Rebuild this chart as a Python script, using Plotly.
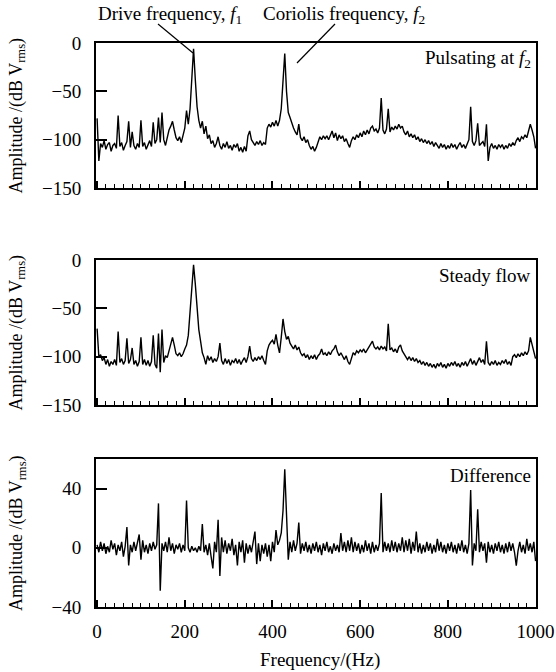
import plotly.graph_objects as go

# ---------------- data ----------------
freq_hz = list(range(0, 1001, 4))

pulsating_db = [
    -78, -122, -104, -108, -101, -110, -105, -103, -112, -106,
    -104, -109, -75, -107, -103, -111, -106, -102, -81, -108,
    -92, -106, -110, -104, -108, -80, -107, -103, -110, -105,
    -101, -107, -82, -104, -100, -77, -103, -72, -100, -106,
    -96, -90, -86, -81, -90, -98, -101, -97, -103, -95,
    -88, -70, -84, -68, -42, -6, -38, -66, -80, -88,
    -81, -94, -86, -99, -95, -104, -101, -108, -104, -97,
    -106, -110, -104, -108, -102, -109, -106, -111, -105, -108,
    -104, -112, -108, -113, -107, -112, -96, -91, -100, -103,
    -106, -102, -105, -101, -106, -103, -105, -88, -84, -87,
    -82, -86, -80, -86, -80, -68, -42, -11, -50, -72,
    -77, -84, -88, -92, -95, -84, -98, -101, -97, -103,
    -100, -106, -110, -107, -112, -108, -102, -97, -100, -96,
    -99, -96, -100, -95, -91, -98, -93, -101, -95, -99,
    -96, -102, -99, -104, -108, -101, -97, -100, -95, -98,
    -93, -97, -91, -95, -90, -94, -88, -86, -91, -89,
    -93, -88, -57, -90, -94, -89, -68, -92, -87, -90,
    -86, -89, -84, -88, -86, -92, -95, -91, -97, -94,
    -98, -95, -100, -97, -102, -99, -103, -100, -104, -101,
    -105, -102, -107, -103, -106, -109, -104, -108, -105, -110,
    -106, -109, -104, -108, -105, -110, -106, -103, -108, -105,
    -109, -104, -100, -66, -102, -106, -101, -83, -106, -104,
    -102, -107, -84, -122, -108, -104, -109, -106, -110, -105,
    -108, -105, -110, -106, -109, -104, -107, -103, -106, -101,
    -98, -102, -97, -99, -95, -98, -92, -84, -90, -97,
    -109,
]

steady_db = [
    -71, -100, -98, -104, -101, -108, -103, -110, -105, -108,
    -103, -109, -74, -106, -102, -108, -104, -81, -107, -103,
    -91, -108, -104, -110, -105, -80, -108, -103, -109, -104,
    -110, -105, -78, -108, -112, -76, -116, -72, -106, -99,
    -101, -93, -86, -80, -88, -97, -99, -96, -100, -97,
    -92, -88, -78, -55, -30, -5, -25, -52, -72, -84,
    -96, -101, -108, -99, -104, -100, -106, -102, -105, -100,
    -86, -104, -108, -102, -107, -103, -109, -104, -106, -102,
    -107, -103, -108, -104, -101, -106, -100, -89, -102, -105,
    -101, -104, -100, -103, -99, -104, -108, -94, -88, -85,
    -83, -87, -77, -88, -96, -80, -61, -74, -82, -79,
    -86, -89, -92, -88, -93, -90, -96, -99, -97, -101,
    -98, -103, -99, -102, -98, -103, -99, -97, -92, -98,
    -96, -99, -95, -98, -94, -92, -88, -95, -99, -96,
    -100, -103, -99, -105, -108, -102, -96, -98, -94, -96,
    -93, -95, -92, -96, -93, -90, -87, -84, -90, -92,
    -90, -93, -89, -92, -90, -94, -66, -93, -91, -95,
    -92, -96, -90, -88, -94, -97, -100, -103, -100, -104,
    -101, -105, -102, -106, -104, -108, -105, -109, -106, -110,
    -107, -111, -108, -112, -107, -110, -106, -111, -108, -112,
    -107, -110, -106, -109, -105, -110, -107, -111, -106, -109,
    -105, -110, -106, -102, -108, -104, -109, -105, -101, -106,
    -103, -108, -84, -106, -109, -105, -108, -104, -109, -106,
    -108, -104, -107, -103, -108, -105, -109, -100, -98, -101,
    -97, -100, -96, -99, -95, -98, -94, -80, -88, -96,
    -102,
]

difference_db = [
    2, -3, 4, -2, 3, -4, 1, -3, 5, -1,
    3, -5, 2, -2, 4, -6, 1, 14, -12, 2,
    -3, 4, -2, 3, 9, -8, 5, -3, 2, -4,
    3, -2, 4, -1, 2, 30, -29, 3, -2, 4,
    -3, 7, -2, 3, -4, 2, -1, 3, -3, 2,
    -2, 32, 0, -3, 1, -2, 0, -3, 1, -2,
    16, -3, 2, -5, 3, -6, -14, 4, -3, 19,
    -19, 7, -3, 5, -4, 3, -2, 6, -5, 2,
    -12, 4, -3, 5, -10, 3, -4, 2, -3, 4,
    11, -11, 3, -9, 2, -4, 3, -6, 2, -9,
    4, -3, 12, 2, 5, 10, 25, 53, 19, -8,
    4, -3, 5, -2, 3, 17, -4, 3, -2, 4,
    -3, 2, -4, 3, -2, 4, -3, 2, -5, 3,
    -2, 4, -3, 1, -4, 3, -2, 2, -3, 10,
    -2, 4, -3, 5, -2, 7, -3, 4, -2, 3,
    -4, 2, -3, 5, -2, 3, -4, 4, -3, 2,
    -2, 3, 37, -3, 4, -2, 3, -3, 5, -2,
    4, -3, 3, -2, 7, -3, 5, -2, 6, -4,
    4, -2, 11, -3, 3, -4, 2, -3, 4, -2,
    3, -4, 2, -3, 6, -2, 4, -3, 2, -4,
    3, -2, 4, -3, 2, -4, 3, -2, 5, -3,
    2, -4, 3, 39, -12, 3, -2, 26, -3, 4,
    -2, 3, -10, 4, -3, 2, -4, 3, -2, 4,
    -3, 2, -4, 3, -3, 4, -2, 3, -3, -12,
    -2, 4, -3, 2, -4, 6, -2, 3, -3, 4,
    -9,
]

x_tickvals = [0, 200, 400, 600, 800, 1000]
x_ticktext = ["0", "200", "400", "600", "800", "1000"]
db_tickvals = [-150, -100, -50, 0]
db_ticktext = ["\u2212150", "\u2212100", "\u221250", "0"]
diff_tickvals = [-40, 0, 40]
diff_ticktext = ["\u221240", "0", "40"]

panel_labels = ["Pulsating at <i>f</i><sub>2</sub>", "Steady flow", "Difference"]

# ---------------- layout geometry ----------------
W, H = 556, 672
L, R, T, B = 96, 20, 43, 65


def px(x):
    return (x - L) / (W - L - R)


def py(y):
    return 1 - (y - T) / (H - T - B)


FONT = "Liberation Serif, Times New Roman, DejaVu Serif, serif"
fig = go.Figure()
series = [pulsating_db, steady_db, difference_db]
for i, s in enumerate(series):
    sfx = "" if i == 0 else str(i + 1)
    fig.add_trace(go.Scatter(x=freq_hz, y=s, mode="lines",
                             xaxis="x" + sfx, yaxis="y" + sfx,
                             line=dict(color="black", width=1.4),
                             showlegend=False, hoverinfo="skip"))

xcommon = dict(range=[-2.5, 1001], showline=True, linecolor="black", linewidth=2,
               mirror=True, ticks="inside", ticklen=7, tickwidth=1.5, tickcolor="black",
               tickvals=x_tickvals, ticktext=x_ticktext, automargin=False,
               minor=dict(ticks="inside", ticklen=4, tickwidth=1, tickcolor="black",
                          tickvals=list(range(20, 1000, 20))),
               showgrid=False, zeroline=False,
               tickfont=dict(family=FONT, size=19, color="black"))
ycommon = dict(showline=True, linecolor="black", linewidth=2, mirror=True,
               ticks="inside", ticklen=11, tickwidth=1.5, tickcolor="black",
               showgrid=False, zeroline=False, ticklabelstandoff=9, automargin=False,
               tickfont=dict(family=FONT, size=19, color="black"))

doms = [(py(188), py(43)), (py(405), py(260)), (py(607), py(459))]

fig.update_layout(
    template="none", autosize=False,
    width=W, height=H, margin=dict(l=L, r=R, t=T, b=B, pad=0),
    paper_bgcolor="white", plot_bgcolor="white",
    font=dict(family=FONT, size=19, color="black"),
    xaxis=dict(xcommon, anchor="y", showticklabels=False),
    xaxis2=dict(xcommon, anchor="y2", showticklabels=False),
    xaxis3=dict(xcommon, anchor="y3", showticklabels=True, ticklabelstandoff=6),
    yaxis=dict(ycommon, anchor="x", domain=list(doms[0]), range=[-150, 0],
               tickvals=db_tickvals, ticktext=db_ticktext),
    yaxis2=dict(ycommon, anchor="x2", domain=list(doms[1]), range=[-150, 0],
                tickvals=db_tickvals, ticktext=db_ticktext),
    yaxis3=dict(ycommon, anchor="x3", domain=list(doms[2]), range=[-40, 60],
                tickvals=diff_tickvals, ticktext=diff_ticktext),
)

ann = []
ytitle = "Amplitude /(dB V<sub>rms</sub>)"
for cy in [115.5, 332.5, 533]:
    ann.append(dict(text=ytitle, x=px(17), y=py(cy), xref="paper", yref="paper",
                    showarrow=False, textangle=-90, xanchor="center", yanchor="middle",
                    font=dict(family=FONT, size=18)))
ann.append(dict(text="Frequency/(Hz)", x=px(320), y=py(660), xref="paper", yref="paper",
                showarrow=False, xanchor="center", yanchor="middle",
                font=dict(family=FONT, size=19)))
ann.append(dict(text="Drive frequency, <i>f</i><sub>1</sub>", x=px(96), y=py(15),
                xref="paper", yref="paper", showarrow=False, xanchor="left", yanchor="middle",
                font=dict(family=FONT, size=19)))
ann.append(dict(text="Coriolis frequency, <i>f</i><sub>2</sub>", x=px(261), y=py(15),
                xref="paper", yref="paper", showarrow=False, xanchor="left", yanchor="middle",
                font=dict(family=FONT, size=19)))
for lab, cy in zip(panel_labels, [59, 275, 475]):
    ann.append(dict(text=lab, x=px(533), y=py(cy), xref="paper", yref="paper",
                    showarrow=False, xanchor="right", yanchor="middle",
                    font=dict(family=FONT, size=19)))
fig.update_layout(annotations=ann)

fig.add_shape(type="line", xref="paper", yref="paper", x0=px(158), y0=py(24), x1=px(193), y1=py(53),
              line=dict(color="black", width=1.2))
fig.add_shape(type="line", xref="paper", yref="paper", x0=px(335), y0=py(24), x1=px(297), y1=py(63),
              line=dict(color="black", width=1.2))

fig.write_html("out.html", config={"displayModeBar": False, "responsive": False},
               post_script="document.body.style.margin='0px';document.body.style.overflow='hidden';")
